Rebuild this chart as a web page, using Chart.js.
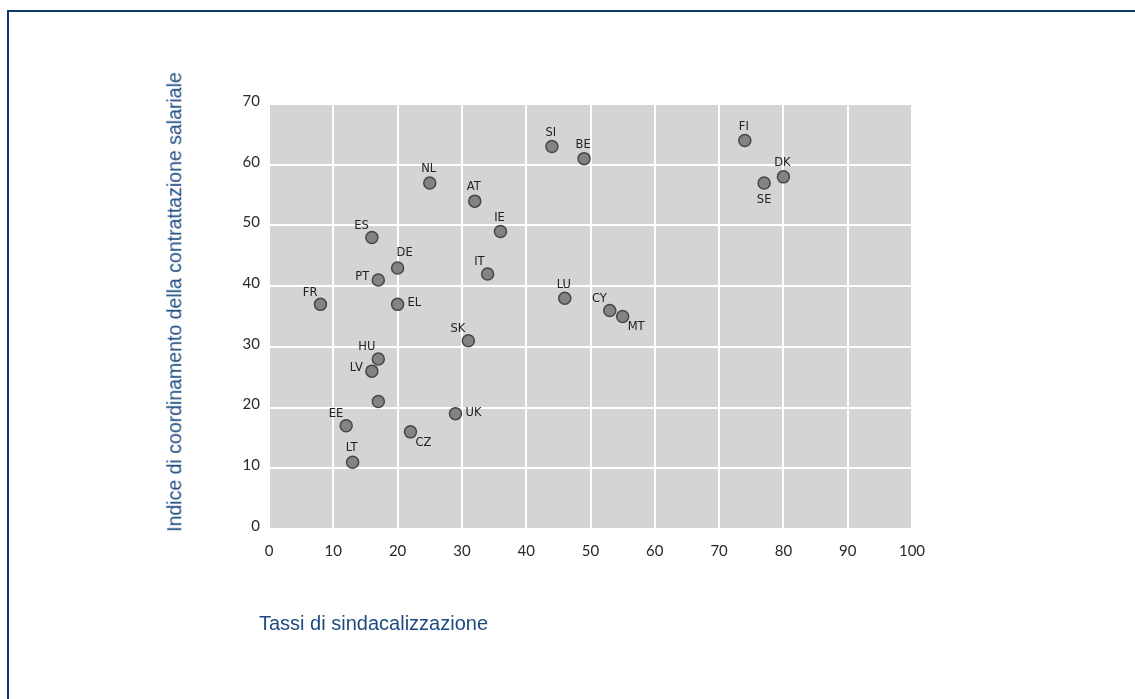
<!DOCTYPE html>
<html>
<head>
<meta charset="utf-8">
<script src="https://cdn.jsdelivr.net/npm/chart.js@4/dist/chart.umd.min.js"></script>
<style>
  html, body { margin: 0; padding: 0; background: #fff; }
  #wrap { position: relative; width: 1135px; height: 699px; overflow: hidden; }
  #frame { position: absolute; left: 7px; top: 10px; right: -5px; bottom: -5px;
           border-top: 2px solid #0d3a6b; border-left: 2px solid #0d3a6b; }
  #chart { position: absolute; left: 0; top: 0; }
  .ttl { position: absolute; font-family: "Liberation Sans", Arial, sans-serif;
         color: #1d4a80; white-space: nowrap; line-height: 1; }
  #ytitle { font-size: 19.5px; left: 175px; top: 302px; transform: translate(-50%, -50%) rotate(-90deg); }
  #xtitle { font-size: 20px; left: 259px; top: 613px; }
</style>
</head>
<body>
<div id="wrap">
  <div id="frame"></div>
  <canvas id="chart" width="1135" height="699"></canvas>
  <div class="ttl" id="ytitle">Indice di coordinamento della contrattazione salariale</div>
  <div class="ttl" id="xtitle">Tassi di sindacalizzazione</div>
</div>
<script>
// country codes (one point has no label)
const countries = ["FR", "ES", "PT", "DE", "EL", "NL", "AT", "IE", "IT", "SK",
  "SI", "BE", "LU", "CY", "MT", "FI", "SE", "DK", "HU", "LV", "", "EE", "LT", "CZ", "UK"];
// union density (x)
const unionRate = [8, 16, 17, 20, 20, 25, 32, 36, 34, 31,
  44, 49, 46, 53, 55, 74, 77, 80, 17, 16, 17, 12, 13, 22, 29];
// wage bargaining coordination index (y)
const coordIndex = [37, 48, 41, 43, 37, 57, 54, 49, 42, 31,
  63, 61, 38, 36, 35, 64, 57, 58, 28, 26, 21, 17, 11, 16, 19];
const xTicks = [0, 10, 20, 30, 40, 50, 60, 70, 80, 90, 100];
const yTicks = [0, 10, 20, 30, 40, 50, 60, 70];

// where each label sits relative to its point
const labelPos = ["tl", "tl", "l", "tr", "r", "t", "t", "t", "tl", "tl",
  "t", "t", "t", "tl", "br", "t", "b", "t", "tl", "l", "", "tl", "t", "br", "r"];

const points = unionRate.map((x, i) => ({ x: x, y: coordIndex[i] }));

const plotBg = {
  id: "plotBg",
  beforeDraw(chart) {
    const { ctx, chartArea: a } = chart;
    ctx.save();
    ctx.fillStyle = "#d4d4d4";
    ctx.fillRect(a.left, a.top, a.right - a.left, a.bottom - a.top);
    ctx.restore();
  }
};

const pointLabels = {
  id: "pointLabels",
  afterDatasetsDraw(chart) {
    const ctx = chart.ctx;
    const meta = chart.getDatasetMeta(0);
    ctx.save();
    ctx.font = "11.5px 'DejaVu Sans', sans-serif";
    ctx.fillStyle = "#222";
    meta.data.forEach((el, i) => {
      const txt = countries[i];
      if (!txt) return;
      let x = el.x, y = el.y;
      switch (labelPos[i]) {
        case "t": ctx.textAlign = "center"; ctx.textBaseline = "bottom"; x -= 1; y -= 8; break;
        case "tl": ctx.textAlign = "right"; ctx.textBaseline = "bottom"; x -= 3; y -= 6; break;
        case "tr": ctx.textAlign = "left"; ctx.textBaseline = "bottom"; x -= 1; y -= 9; break;
        case "l": ctx.textAlign = "right"; ctx.textBaseline = "middle"; x -= 9; y -= 3; break;
        case "r": ctx.textAlign = "left"; ctx.textBaseline = "middle"; x += 10; y -= 1; break;
        case "b": ctx.textAlign = "center"; ctx.textBaseline = "top"; y += 11; break;
        case "br": ctx.textAlign = "left"; ctx.textBaseline = "top"; x += 5; y += 5; break;
      }
      ctx.fillText(txt, x, y);
    });
    ctx.restore();
  }
};

const tickFont = { family: "Lato, 'DejaVu Sans', sans-serif", size: 15 };

new Chart(document.getElementById("chart").getContext("2d"), {
  type: "scatter",
  data: {
    datasets: [{
      data: points,
      pointRadius: 6,
      pointHoverRadius: 6,
      backgroundColor: "#838383",
      borderColor: "#474747",
      borderWidth: 1.5
    }]
  },
  options: {
    responsive: false,
    animation: false,
    layout: { padding: { left: 200, top: 104, right: 223, bottom: 140 } },
    plugins: { legend: { display: false }, tooltip: { enabled: false } },
    scales: {
      x: {
        type: "linear",
        min: 0, max: 100,
        afterBuildTicks: s => { s.ticks = xTicks.map(v => ({ value: v })); },
        afterFit: s => { s.height = 30; },
        grid: { color: "#ffffff", lineWidth: 2, drawTicks: false },
        border: { display: false },
        ticks: { color: "#2a2a2a", font: tickFont, padding: 13 }
      },
      y: {
        type: "linear",
        min: 0, max: 70,
        afterBuildTicks: s => { s.ticks = yTicks.map(v => ({ value: v })); },
        afterFit: s => { s.width = 69; },
        grid: { color: "#ffffff", lineWidth: 2, drawTicks: false },
        border: { display: false },
        ticks: { color: "#2a2a2a", font: tickFont, padding: 9, labelOffset: -3 }
      }
    }
  },
  plugins: [plotBg, pointLabels]
});
</script>
</body>
</html>
